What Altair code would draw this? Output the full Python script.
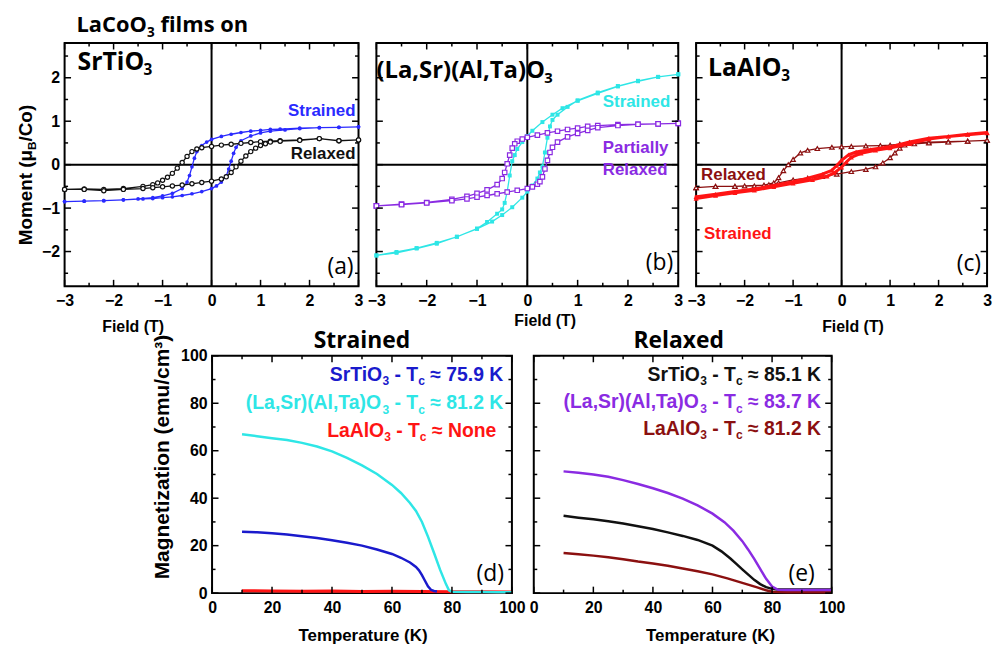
import altair as alt
import pandas as pd

# ---------------- (a) LaCoO3 on SrTiO3 : M(H) loops ----------------
a_str_dn_x = [3.0, 2.6, 2.2, 1.8, 1.4, 1.2, 1.0, 0.8, 0.6, 0.4, 0.2, 0.0, -0.1, -0.2, -0.3, -0.35, -0.4, -0.45, -0.5, -0.6, -0.8, -1.0, -1.2, -1.5, -1.8, -2.2, -2.6, -3.0]
a_str_dn_y = [0.87, 0.86, 0.85, 0.84, 0.82, 0.81, 0.79, 0.77, 0.74, 0.70, 0.65, 0.58, 0.52, 0.44, 0.30, 0.15, -0.05, -0.25, -0.40, -0.55, -0.66, -0.72, -0.76, -0.79, -0.81, -0.83, -0.84, -0.85]
a_str_up_x = [-3.0, -2.6, -2.2, -1.8, -1.4, -1.2, -1.0, -0.8, -0.6, -0.4, -0.2, 0.0, 0.1, 0.2, 0.3, 0.35, 0.4, 0.45, 0.5, 0.6, 0.8, 1.0, 1.2, 1.5, 1.8, 2.2, 2.6, 3.0]
a_str_up_y = [-0.85, -0.84, -0.83, -0.81, -0.79, -0.78, -0.76, -0.74, -0.71, -0.67, -0.62, -0.55, -0.49, -0.40, -0.26, -0.10, 0.08, 0.26, 0.40, 0.55, 0.66, 0.73, 0.77, 0.80, 0.83, 0.85, 0.86, 0.87]

a_rel_dn_x = [3.0, 2.6, 2.2, 1.8, 1.4, 1.2, 1.0, 0.8, 0.6, 0.4, 0.2, 0.0, -0.2, -0.3, -0.4, -0.5, -0.6, -0.7, -0.8, -0.9, -1.0, -1.1, -1.2, -1.4, -1.8, -2.2, -2.6, -3.0]
a_rel_dn_y = [0.57, 0.55, 0.60, 0.57, 0.55, 0.54, 0.53, 0.51, 0.49, 0.47, 0.45, 0.42, 0.39, 0.36, 0.30, 0.19, 0.05, -0.08, -0.20, -0.29, -0.36, -0.42, -0.46, -0.50, -0.55, -0.57, -0.56, -0.57]
a_rel_up_x = [-3.0, -2.6, -2.2, -1.8, -1.4, -1.2, -1.0, -0.8, -0.6, -0.4, -0.2, 0.0, 0.2, 0.3, 0.4, 0.5, 0.6, 0.7, 0.8, 0.9, 1.0, 1.1, 1.2, 1.4, 1.8, 2.2, 2.6, 3.0]
a_rel_up_y = [-0.57, -0.57, -0.60, -0.57, -0.55, -0.53, -0.51, -0.49, -0.47, -0.44, -0.41, -0.38, -0.33, -0.28, -0.18, -0.05, 0.08, 0.20, 0.30, 0.38, 0.44, 0.48, 0.52, 0.54, 0.56, 0.60, 0.55, 0.57]

# ---------------- (b) on (La,Sr)(Al,Ta)O3 ----------------
b_str_dn_x = [3.0, 2.6, 2.2, 1.8, 1.4, 1.0, 0.7, 0.5, 0.3, 0.1, 0.0, -0.1, -0.2, -0.25, -0.3, -0.35, -0.4, -0.45, -0.5, -0.6, -0.8, -1.0, -1.4, -1.8, -2.2, -2.6, -3.0]
b_str_dn_y = [2.08, 2.02, 1.92, 1.80, 1.64, 1.47, 1.30, 1.15, 0.98, 0.78, 0.66, 0.52, 0.36, 0.22, 0.08, -0.25, -0.62, -0.88, -1.03, -1.13, -1.32, -1.47, -1.66, -1.80, -1.92, -2.01, -2.09]
b_str_up_x = [-3.0, -2.6, -2.2, -1.8, -1.4, -1.0, -0.7, -0.5, -0.3, -0.1, 0.0, 0.1, 0.2, 0.25, 0.3, 0.35, 0.4, 0.45, 0.5, 0.6, 0.8, 1.0, 1.4, 1.8, 2.2, 2.6, 3.0]
b_str_up_y = [-2.09, -2.03, -1.93, -1.82, -1.66, -1.48, -1.31, -1.16, -0.98, -0.76, -0.62, -0.48, -0.32, -0.18, -0.04, 0.28, 0.62, 0.88, 1.03, 1.15, 1.33, 1.48, 1.66, 1.81, 1.93, 2.02, 2.08]

b_rel_dn_x = [3.0, 2.6, 2.2, 1.8, 1.4, 1.2, 1.0, 0.8, 0.6, 0.4, 0.2, 0.0, -0.1, -0.2, -0.25, -0.3, -0.35, -0.4, -0.45, -0.5, -0.6, -0.8, -1.0, -1.2, -1.5, -2.0, -2.5, -3.0]
b_rel_dn_y = [0.95, 0.94, 0.93, 0.92, 0.90, 0.88, 0.84, 0.81, 0.77, 0.73, 0.68, 0.63, 0.59, 0.54, 0.48, 0.38, 0.22, 0.02, -0.18, -0.32, -0.46, -0.58, -0.66, -0.73, -0.80, -0.87, -0.91, -0.95]
b_rel_up_x = [-3.0, -2.5, -2.0, -1.5, -1.2, -1.0, -0.8, -0.6, -0.4, -0.2, 0.0, 0.1, 0.2, 0.25, 0.3, 0.35, 0.4, 0.45, 0.5, 0.6, 0.8, 1.0, 1.2, 1.4, 1.8, 2.2, 2.6, 3.0]
b_rel_up_y = [-0.95, -0.92, -0.88, -0.83, -0.79, -0.75, -0.71, -0.67, -0.63, -0.59, -0.55, -0.51, -0.45, -0.39, -0.28, -0.10, 0.10, 0.28, 0.40, 0.52, 0.64, 0.72, 0.79, 0.85, 0.90, 0.93, 0.94, 0.95]

# ---------------- (c) on LaAlO3 ----------------
c_str_dn_x = [3.0, 2.6, 2.2, 1.8, 1.4, 1.0, 0.6, 0.3, 0.15, 0.0, -0.1, -0.2, -0.4, -0.7, -1.0, -1.4, -1.8, -2.2, -2.6, -3.0]
c_str_dn_y = [0.73, 0.69, 0.65, 0.61, 0.52, 0.41, 0.35, 0.29, 0.23, 0.10, -0.02, -0.13, -0.22, -0.31, -0.39, -0.48, -0.56, -0.62, -0.68, -0.74]
c_str_up_x = [-3.0, -2.6, -2.2, -1.8, -1.4, -1.0, -0.6, -0.3, -0.15, 0.0, 0.1, 0.2, 0.4, 0.7, 1.0, 1.4, 1.8, 2.2, 2.6, 3.0]
c_str_up_y = [-0.78, -0.71, -0.65, -0.59, -0.51, -0.43, -0.35, -0.27, -0.19, -0.06, 0.06, 0.17, 0.26, 0.33, 0.38, 0.48, 0.59, 0.65, 0.70, 0.74]

c_rel_dn_x = [3.0, 2.6, 2.2, 1.8, 1.4, 1.2, 1.0, 0.8, 0.5, 0.2, 0.0, -0.2, -0.5, -0.7, -0.85, -1.0, -1.1, -1.2, -1.3, -1.4, -1.6, -2.0, -2.2, -2.6, -3.0]
c_rel_dn_y = [0.56, 0.54, 0.53, 0.52, 0.50, 0.47, 0.45, 0.44, 0.43, 0.42, 0.41, 0.40, 0.37, 0.33, 0.27, 0.12, 0.0, -0.14, -0.30, -0.42, -0.47, -0.49, -0.50, -0.50, -0.53]
c_rel_up_x = [-3.0, -2.6, -2.2, -1.8, -1.5, -1.3, -1.0, -0.7, -0.4, -0.1, 0.2, 0.5, 0.7, 0.85, 1.0, 1.1, 1.2, 1.3, 1.5, 1.8, 2.2, 2.6, 3.0]
c_rel_up_y = [-0.53, -0.50, -0.50, -0.49, -0.46, -0.42, -0.35, -0.31, -0.27, -0.22, -0.16, -0.11, -0.05, 0.04, 0.16, 0.27, 0.38, 0.45, 0.48, 0.50, 0.52, 0.54, 0.56]

# ---------------- (d) strained : M(T) ----------------
d_cyan_T = [10, 15, 20, 25, 30, 35, 40, 45, 50, 55, 60, 63, 66, 68, 70, 72, 74, 76, 78, 79, 80, 85, 90, 95, 100]
d_cyan_M = [66.9, 66.1, 65.3, 64.5, 63.3, 61.8, 59.7, 57.0, 53.8, 50.2, 45.6, 42.2, 38.0, 34.6, 30.0, 23.8, 17.0, 10.0, 3.8, 1.2, 0.6, 0.5, 0.5, 0.4, 0.4]
d_blue_T = [10, 15, 20, 25, 30, 35, 40, 45, 50, 55, 60, 63, 66, 68, 69, 70, 71, 72, 73, 74, 75]
d_blue_M = [25.9, 25.6, 25.2, 24.7, 24.0, 23.2, 22.3, 21.2, 20.0, 18.4, 16.5, 14.9, 12.9, 11.0, 9.6, 7.6, 5.2, 2.9, 1.4, 0.9, 0.7]
d_red_T = [10, 20, 30, 40, 50, 60, 70, 80, 90, 100]
d_red_M = [1.0, 0.9, 0.8, 0.9, 0.7, 0.8, 0.7, 0.6, 0.6, 0.5]

# ---------------- (e) relaxed : M(T) ----------------
e_purple_T = [10, 15, 20, 25, 30, 35, 40, 45, 50, 55, 60, 64, 67, 70, 72, 74, 76, 78, 80, 82, 85, 90, 95, 100]
e_purple_M = [51.3, 50.7, 50.0, 49.0, 47.6, 46.0, 44.2, 42.2, 39.8, 37.0, 33.5, 29.9, 26.3, 21.9, 18.3, 14.4, 10.2, 6.0, 2.8, 1.4, 1.3, 1.3, 1.3, 1.3]
e_black_T = [10, 15, 20, 25, 30, 35, 40, 45, 50, 55, 60, 63, 66, 68, 70, 72, 74, 76, 78, 80, 82, 85, 90, 95, 100]
e_black_M = [32.6, 31.8, 31.1, 30.3, 29.3, 28.2, 27.0, 25.6, 24.1, 22.4, 20.0, 17.6, 14.6, 12.3, 10.0, 7.8, 5.6, 3.8, 2.5, 1.8, 1.5, 1.5, 1.5, 1.5, 1.5]
e_dred_T = [10, 15, 20, 25, 30, 35, 40, 45, 50, 55, 60, 65, 70, 75, 78, 80, 85, 90, 95, 100]
e_dred_M = [16.9, 16.4, 15.8, 15.1, 14.3, 13.3, 12.5, 11.5, 10.4, 9.2, 7.9, 6.2, 4.3, 2.4, 1.2, 0.6, 0.4, 0.4, 0.4, 0.4]

# ---------------- tick values ----------------
field_ticks = [-3, -2, -1, 0, 1, 2, 3]
field_minor = [-2.5, -1.5, -0.5, 0.5, 1.5, 2.5]
moment_ticks = [-2, -1, 0, 1, 2]
moment_minor = [-2.5, -1.5, -0.5, 0.5, 1.5, 2.5]
temp_ticks = [0, 20, 40, 60, 80, 100]
temp_minor = [10, 30, 50, 70, 90]
mag_ticks = [0, 20, 40, 60, 80, 100]
mag_minor = [10, 30, 50, 70, 90]

# ---------------- colours & fonts ----------------
BLUE = "#2a2aff"
BLUE_D = "#1a1acc"
CYAN = "#2ee6e6"
PURPLE = "#8a2be2"
RED = "#ff1414"
DRED = "#8b1010"
BLACK = "#111111"
FS = "Liberation Sans"
FO = "Open Sans"

ARIAL_B = {' ': .278, '(': .333, ')': .333, ',': .278, '-': .333, '.': .278, '/': .278,
           'A': .722, 'B': .722, 'C': .722, 'K': .722, 'L': .611, 'M': .833, 'N': .722,
           'O': .778, 'S': .667, 'T': .611, 'a': .556, 'c': .556, 'd': .611, 'e': .556,
           'i': .278, 'l': .278, 'm': .889, 'n': .611, 'o': .611, 'r': .389, 't': .333,
           'u': .611, 'x': .556, 'z': .5, 'μ': .611, '≈': .584}
for _d in "0123456789":
    ARIAL_B[_d] = .556
OPEN_B = {'L': .556, 'a': .600, 'C': .640, 'o': .617, 'O': .796, 'S': .551, 'r': .434,
          'T': .570, 'i': .285, 'f': .370, 'l': .285, 'm': .947, 's': .491, 'n': .659,
          ' ': .260, '(': .342, ')': .342, ',': .267, 'A': .690, '3': .572, 'e': .596, 'd': .657}


def wid(s, size, table):
    return sum(table.get(ch, 0.58) for ch in s) * size


class Panel:
    """Helpers for one panel: converts pixel offsets (relative to the plot area)
    into data coordinates so every annotation is drawn through the panel scales."""

    def __init__(self, W, H, xd, yd):
        self.W, self.H, self.xd, self.yd = W, H, xd, yd
        self.dx = (xd[1] - xd[0]) / W
        self.dy = (yd[1] - yd[0]) / H
        self.items = []

    def px(self, p):
        return self.xd[0] + p * self.dx

    def py(self, p):
        return self.yd[1] - p * self.dy

    def add(self, t, px, py, size, color="black", font=FS, weight="bold", align="left", angle=0):
        self.items.append(((size, color, font, weight, align, angle), self.px(px), self.py(py), t))

    def rich(self, pieces, px, py, size, color="black", font=FS, table=ARIAL_B, align="left",
             weight="bold", up=False, gap=0.0):
        subfs = round(size * 0.62, 1)
        ws = [wid(t, subfs if s else size, table) + (gap if s else 0) for t, s in pieces]
        tot = sum(ws)
        pos = -tot / 2 if up else (-tot if align == "right" else 0)
        for (t, s), w in zip(pieces, ws):
            fs = subfs if s else size
            lead = len(t) - len(t.lstrip(" "))
            p = pos + wid(" " * lead, fs, table) + (gap if s else 0)
            drop = size * 0.22 if s else 0
            if up:
                self.add(t.strip(), px + drop, py - p, fs, color, font, weight, "left", 270)
            else:
                self.add(t.strip(), px + p, py + drop, fs, color, font, weight, "left", 0)
            pos += w

    def text_layers(self, X, Y):
        groups = {}
        for key, x, y, t in self.items:
            groups.setdefault(key, []).append((x, y, t))
        out = []
        for (size, color, font, weight, align, angle), rows in groups.items():
            df = pd.DataFrame(rows, columns=["x", "y", "t"])
            kw = dict(fontSize=size, color=color, font=font, fontWeight=weight, align=align,
                      baseline="alphabetic")
            if angle:
                kw["angle"] = angle
            out.append(alt.Chart(df).mark_text(**kw).encode(x=X, y=Y, text="t:N"))
        return out

    def tick_layer(self, xmaj, xmin, ymaj, ymin, X, Y):
        (x0, x1), (y0, y1) = self.xd, self.yd
        rows = []
        for vals, L in ((xmaj, 6.5), (xmin, 3.5)):
            for v in vals:
                rows.append((v, v, y0, y0 + L * self.dy))
                rows.append((v, v, y1, y1 - L * self.dy))
        for vals, L in ((ymaj, 6.5), (ymin, 3.5)):
            for v in vals:
                rows.append((x0, x0 + L * self.dx, v, v))
                rows.append((x1, x1 - L * self.dx, v, v))
        df = pd.DataFrame(rows, columns=["x", "x2", "y", "y2"])
        return alt.Chart(df).mark_rule(color="black", strokeWidth=1.5).encode(
            x=X, x2=alt.X2("x2"), y=Y, y2=alt.Y2("y2"))

    def extent_layer(self, left, right, top, bottom, X, Y):
        # invisible guide lines that fix the panel's layout footprint
        (x0, x1), (y0, y1) = self.xd, self.yd
        xm, ym = (x0 + x1) / 2, (y0 + y1) / 2
        df = pd.DataFrame([(x0 - left * self.dx, x1 + right * self.dx, ym, ym),
                           (xm, xm, y1 + top * self.dy, y0 - bottom * self.dy)],
                          columns=["x", "x2", "y", "y2"])
        return alt.Chart(df).mark_rule(color="white", opacity=0, strokeWidth=1).encode(
            x=X, x2=alt.X2("x2"), y=Y, y2=alt.Y2("y2"))


def loop(dn_x, dn_y, up_x, up_y, color, shape, filled, size, X, Y, sw=1.3):
    df = pd.DataFrame({"x": list(dn_x) + list(up_x), "y": list(dn_y) + list(up_y)})
    df["i"] = range(len(df))
    line = alt.Chart(df).mark_line(color=color, strokeWidth=sw).encode(x=X, y=Y, order="i:Q")
    if filled:
        pts = alt.Chart(df).mark_point(shape=shape, filled=True, color=color, size=size,
                                       opacity=1).encode(x=X, y=Y)
    else:
        pts = alt.Chart(df).mark_point(shape=shape, filled=False, fill="white", stroke=color,
                                       size=size, strokeWidth=1.2, opacity=1).encode(x=X, y=Y)
    return [line, pts]


def curve(T, M, color, X, Y, sw=2.5):
    df = pd.DataFrame({"x": T, "y": M})
    return alt.Chart(df).mark_line(color=color, strokeWidth=sw).encode(x=X, y=Y)


def zero_rules(X, Y):
    return [alt.Chart(pd.DataFrame({"y": [0.0]})).mark_rule(color="black", strokeWidth=2).encode(y=Y),
            alt.Chart(pd.DataFrame({"x": [0.0]})).mark_rule(color="black", strokeWidth=2).encode(x=X)]


XD = [-3, 3]
YD = [-2.8, 2.8]
TD = [0, 100]
MD = [0, 100]


def field_x():
    return alt.X("x:Q", scale=alt.Scale(domain=XD, nice=False, zero=False),
                 axis=alt.Axis(values=field_ticks, labelFlush=False, labelPadding=6, title=None))


def moment_y(show):
    ax = alt.Axis(values=moment_ticks, labelPadding=5, title=None) if show else None
    return alt.Y("y:Q", scale=alt.Scale(domain=YD, nice=False, zero=False), axis=ax)


def temp_x():
    return alt.X("x:Q", scale=alt.Scale(domain=TD, nice=False, zero=False),
                 axis=alt.Axis(values=temp_ticks, labelFlush=False, labelPadding=7, title=None))


def mag_y(show):
    ax = alt.Axis(values=mag_ticks, labelPadding=5, title=None) if show else None
    return alt.Y("y:Q", scale=alt.Scale(domain=MD, nice=False, zero=False), axis=ax)


HT, HB = 245, 239

# ---------------- panel (a) ----------------
WA = 296
Xa, Ya = field_x(), moment_y(True)
A = Panel(WA, HT, XD, YD)
A.rich([("LaCoO", 0), ("3", 1), (" films on", 0)], 12, -11, 22, font=FO, table=OPEN_B, gap=0.5)
A.rich([("Moment (μ", 0), ("B", 1), ("/Co)", 0)], -33, 133, 19, up=True)
A.rich([("SrTiO", 0), ("3", 1)], 13, 27, 25, font=FO, table=OPEN_B, gap=0.5)
A.add("Strained", 293, 73, 17, BLUE, align="right")
A.add("Relaxed", 293, 117, 17, BLACK, align="right")
A.add("(a)", 291, 233, 23, "black", font=FO, weight="normal", align="right")
A.add("Field (T)", 69, 291, 16, "black", align="center")
pa_layers = [A.extent_layer(55, 10, 32, 60, Xa, Ya)] + zero_rules(Xa, Ya)
pa_layers += loop(a_str_dn_x, a_str_dn_y, a_str_up_x, a_str_up_y, BLUE, "circle", True, 14, Xa, Ya)
pa_layers += loop(a_rel_dn_x, a_rel_dn_y, a_rel_up_x, a_rel_up_y, BLACK, "circle", False, 18, Xa, Ya)
pa_layers += [A.tick_layer(field_ticks, field_minor, moment_ticks, moment_minor, Xa, Ya)]
pa_layers += A.text_layers(Xa, Ya)
pa = alt.layer(*pa_layers).properties(width=WA, height=HT)

# ---------------- panel (b) ----------------
WB = 304
Xb, Yb = field_x(), moment_y(False)
B = Panel(WB, HT, XD, YD)
B.rich([("(La,Sr)(Al,Ta)O", 0), ("3", 1)], 0, 35, 24, font=FO, table=OPEN_B, gap=1.5)
B.add("Strained", 228, 64, 17, CYAN)
B.add("Partially", 228, 111, 17, PURPLE)
B.add("Relaxed", 228, 133, 17, PURPLE)
B.add("(b)", 299, 229, 23, "black", font=FO, weight="normal", align="right")
B.add("Field (T)", 170, 285, 16, "black", align="center")
pb_layers = [B.extent_layer(10, 10, 10, 60, Xb, Yb)] + zero_rules(Xb, Yb)
pb_layers += loop(b_str_dn_x, b_str_dn_y, b_str_up_x, b_str_up_y, CYAN, "square", True, 16, Xb, Yb)
pb_layers += loop(b_rel_dn_x, b_rel_dn_y, b_rel_up_x, b_rel_up_y, PURPLE, "square", False, 20, Xb, Yb)
pb_layers += [B.tick_layer(field_ticks, field_minor, moment_ticks, moment_minor, Xb, Yb)]
pb_layers += B.text_layers(Xb, Yb)
pb = alt.layer(*pb_layers).properties(width=WB, height=HT)

# ---------------- panel (c) ----------------
WC = 293
Xc, Yc = field_x(), moment_y(False)
C = Panel(WC, HT, XD, YD)
C.rich([("LaAlO", 0), ("3", 1)], 12, 33, 25, font=FO, table=OPEN_B, gap=0.5)
C.add("Relaxed", 5, 138, 17, DRED)
C.add("Strained", 8, 197, 17, RED)
C.add("(c)", 287, 230, 23, "black", font=FO, weight="normal", align="right")
C.add("Field (T)", 158, 291, 16, "black", align="center")
pc_layers = [C.extent_layer(10, 8, 10, 60, Xc, Yc)] + zero_rules(Xc, Yc)
pc_layers += loop(c_rel_dn_x, c_rel_dn_y, c_rel_up_x, c_rel_up_y, DRED, "triangle-up", False, 20, Xc, Yc)
pc_layers += loop(c_str_dn_x, c_str_dn_y, c_str_up_x, c_str_up_y, RED, "triangle-up", True, 26, Xc, Yc, sw=3)
pc_layers += [C.tick_layer(field_ticks, field_minor, moment_ticks, moment_minor, Xc, Yc)]
pc_layers += C.text_layers(Xc, Yc)
pc = alt.layer(*pc_layers).properties(width=WC, height=HT)

# ---------------- panel (d) ----------------
WD = 302
Xd, Yd = temp_x(), mag_y(True)
D = Panel(WD, HB, TD, MD)
D.add("Strained", 151, -8, 23, "black", font=FO, align="center")
D.rich([("SrTiO", 0), ("3", 1), (" - T", 0), ("c", 1), (" ≈ 75.9 K", 0)], 294, 25, 19.5,
       color=BLUE_D, align="right")
D.rich([("(La,Sr)(Al,Ta)O", 0), ("3", 1), (" - T", 0), ("c", 1), (" ≈ 81.2 K", 0)], 294, 54, 19.5,
       color=CYAN, align="right")
D.rich([("LaAlO", 0), ("3", 1), (" - T", 0), ("c", 1), (" ≈ None", 0)], 287, 82, 19.5,
       color=RED, align="right")
D.add("(d)", 294, 227, 23, "black", font=FO, weight="normal", align="right")
D.add("Temperature (K)", 152, 287, 17, "black", align="center")
D.add("Magnetization (emu/cm³)", -43, 102, 21, "black", align="center", angle=270)
pd_layers = [D.extent_layer(76, 16, 40, 0, Xd, Yd),
             curve(d_red_T, d_red_M, RED, Xd, Yd, sw=3),
             curve(d_cyan_T, d_cyan_M, CYAN, Xd, Yd),
             curve(d_blue_T, d_blue_M, BLUE_D, Xd, Yd)]
pd_layers += [D.tick_layer(temp_ticks, temp_minor, mag_ticks, mag_minor, Xd, Yd)]
pd_layers += D.text_layers(Xd, Yd)
pdd = alt.layer(*pd_layers).properties(width=WD, height=HB)

# ---------------- panel (e) ----------------
WE = 300
Xe, Ye = temp_x(), mag_y(False)
E = Panel(WE, HB, TD, MD)
E.add("Relaxed", 146, -8, 23, "black", font=FO, align="center")
E.rich([("SrTiO", 0), ("3", 1), (" - T", 0), ("c", 1), (" ≈ 85.1 K", 0)], 290, 25, 19.5,
       color=BLACK, align="right")
E.rich([("(La,Sr)(Al,Ta)O", 0), ("3", 1), (" - T", 0), ("c", 1), (" ≈ 83.7 K", 0)], 290, 53, 19.5,
       color=PURPLE, align="right")
E.rich([("LaAlO", 0), ("3", 1), (" - T", 0), ("c", 1), (" ≈ 81.2 K", 0)], 290, 80, 19.5,
       color=DRED, align="right")
E.add("(e)", 283, 227, 23, "black", font=FO, weight="normal", align="right")
E.add("Temperature (K)", 178, 287, 17, "black", align="center")
pe_layers = [E.extent_layer(10, 16, 40, 0, Xe, Ye),
             curve(e_dred_T, e_dred_M, DRED, Xe, Ye),
             curve(e_black_T, e_black_M, BLACK, Xe, Ye),
             curve(e_purple_T, e_purple_M, PURPLE, Xe, Ye)]
pe_layers += [E.tick_layer(temp_ticks, temp_minor, mag_ticks, mag_minor, Xe, Ye)]
pe_layers += E.text_layers(Xe, Ye)
pee = alt.layer(*pe_layers).properties(width=WE, height=HB)

top = alt.hconcat(pa, pb, pc, spacing=-4)
bottom = alt.hconcat(pdd, pee, spacing=-6)
chart = alt.vconcat(top, bottom, spacing=-32, center=True).properties(
    padding={"left": 0, "top": 0, "right": 0, "bottom": 0}, background="white"
).configure_view(stroke="black", strokeWidth=2).configure_axis(
    grid=False, ticks=False, domain=False, labelFont=FS, labelFontWeight="bold", labelFontSize=16,
    labelColor="black")

chart.save("out.html", embed_options={"renderer": "svg", "actions": False})
